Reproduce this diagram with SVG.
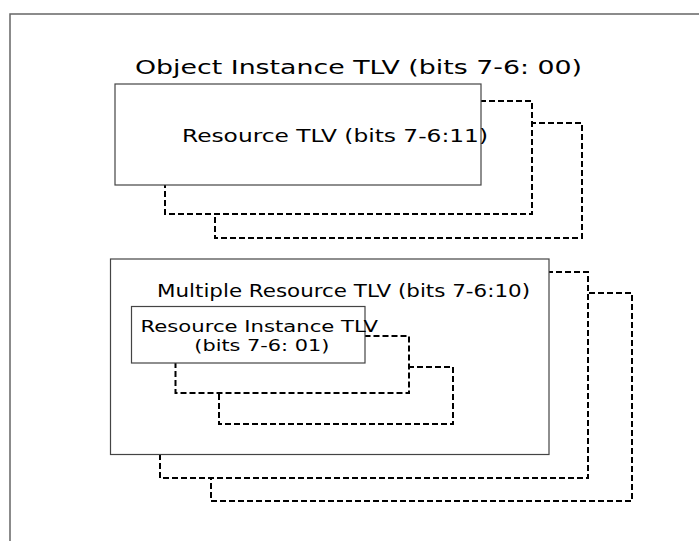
<svg xmlns="http://www.w3.org/2000/svg" width="699" height="541" viewBox="0 0 699 541">
<style>
.box{fill:#fff;stroke:#444;stroke-width:1.2}
.dash{fill:#fff;stroke:#000;stroke-width:2;stroke-dasharray:6 3}
.frame{fill:none;stroke:#666;stroke-width:1.5}
text{font-family:"DejaVu Sans",sans-serif;fill:#000}
</style>
<rect width="699" height="541" fill="#fff"/>
<g id="frame"><path class="frame" d="M10,541 V14 H699"/></g>
<g id="object-instance">
<text x="135" y="73.5" font-size="20" textLength="447" lengthAdjust="spacingAndGlyphs">Object Instance TLV (bits 7-6: 00)</text>
</g>
<g id="resource-tlv">
<rect class="dash" x="215" y="123" width="367" height="115"/>
<rect class="dash" x="165" y="101" width="367" height="113"/>
<rect class="box" x="115" y="84" width="366" height="101"/>
<text x="182" y="142" font-size="17" textLength="306" lengthAdjust="spacingAndGlyphs">Resource TLV (bits 7-6:11)</text>
</g>
<g id="multiple-resource-tlv">
<rect class="dash" x="211" y="293" width="421" height="208"/>
<rect class="dash" x="160" y="272" width="428" height="206"/>
<rect class="box" x="110.5" y="259" width="438.5" height="195.5"/>
<text x="157" y="297" font-size="17.5" textLength="373" lengthAdjust="spacingAndGlyphs">Multiple Resource TLV (bits 7-6:10)</text>
</g>
<g id="resource-instance-tlv">
<rect class="dash" x="219" y="367" width="234" height="57"/>
<rect class="dash" x="175.5" y="336" width="233.5" height="57"/>
<rect class="box" x="131.5" y="306.5" width="233.5" height="56.5"/>
<text x="140.5" y="332" font-size="16.5" textLength="237.5" lengthAdjust="spacingAndGlyphs">Resource Instance TLV</text>
<text x="194.3" y="350.5" font-size="16.5" textLength="135" lengthAdjust="spacingAndGlyphs">(bits 7-6: 01)</text>
</g>
<g id="connectors"></g>
</svg>
